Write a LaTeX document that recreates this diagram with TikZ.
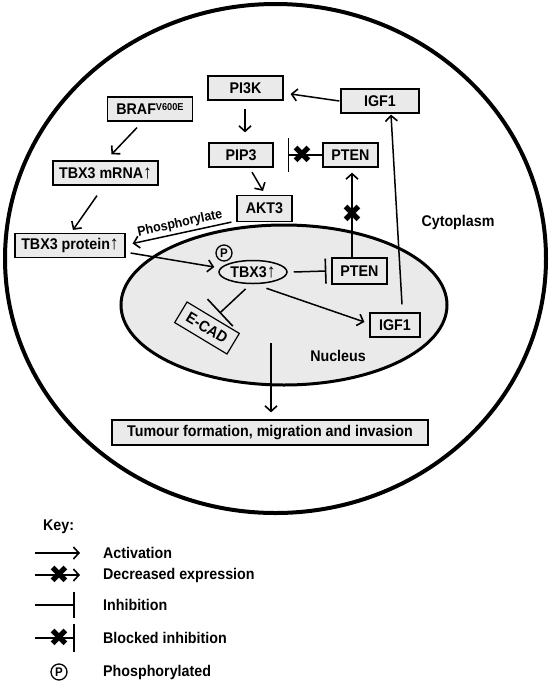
\documentclass[tikz,border=0pt]{standalone}
\usepackage{fontspec}
\setmainfont{Liberation Sans}[FakeStretch=0.92]
\newfontfamily\symfont{DejaVu Sans}
\usetikzlibrary{arrows.meta,calc,shapes.geometric}
\definecolor{boxgray}{RGB}{234,234,234}
\newcommand{\upar}{{\mdseries\fontsize{19}{19}\selectfont ↑}}
\begin{document}
\begin{tikzpicture}[x=1pt,y=-1pt,
  font=\bfseries\fontsize{15.5}{18}\selectfont,
  box/.style={draw=black, line width=1.2pt, fill=boxgray, minimum height=24pt, inner sep=2pt},
  nbox/.style={box, fill=boxgray},
  act/.style={line width=1.5pt, -{Straight Barb[length=5.5pt,width=12pt,line width=1.6pt]}},
  inh/.style={line width=1.5pt, -{Bar[width=#1,line width=1.6pt]}},
  xmark/.style={inner sep=0pt, font=\symfont\fontsize{25}{25}\selectfont},
  pmark/.style={circle, draw, line width=1.3pt, inner sep=0pt, minimum size=16pt, font=\bfseries\fontsize{12.5}{12.5}\selectfont},
  lbl/.style={anchor=west, inner sep=0pt}
]
\useasboundingbox (0,0) rectangle (550,683);
% cell and nucleus
\draw[line width=4pt] (275.5,258.5) ellipse [x radius=270.5pt, y radius=254.5pt];
\draw[line width=3pt, fill=boxgray] (284,305) ellipse [x radius=163pt, y radius=80pt];

% nodes
\node[box, minimum width=75pt] (pi3k) at (245.5,88) {PI3K};
\node[box, minimum width=78pt] (igf1t) at (380,101) {IGF1};
\node[box, minimum width=85pt] (braf) at (150,109) {BRAF\raisebox{4.5pt}{\fontsize{10}{10}\selectfont V600E}};
\node[box, minimum width=105pt] (mrna) at (105.5,173) {TBX3 mRNA\upar};
\node[box, minimum width=64pt] (pip3) at (241,155) {PIP3};
\node[box, minimum width=55pt] (ptent) at (350.5,155) {PTEN};
\node[box, minimum width=55pt, minimum height=26pt] (akt3) at (264.5,208.5) {AKT3};
\node[box, minimum width=110pt] (prot) at (70,245.5) {TBX3 protein\upar};
\node[draw, ellipse, line width=1.5pt, minimum width=68pt, minimum height=23pt, inner sep=0pt] (tbx3) at (253,272) {TBX3\upar};
\node[pmark] (pc) at (224,253) {P};
\node[nbox, minimum width=55pt, minimum height=26pt] (ptenn) at (359.5,271) {PTEN};
\node[nbox, minimum width=50pt] (igf1n) at (395,325) {IGF1};
\node[nbox, minimum width=61pt, rotate=-31] (ecad) at (207,328) {E-CAD};
\node[box, minimum width=316pt, minimum height=25pt] (tum) at (270,432.5) {Tumour formation, migration and invasion};
\node (nuclbl) at (338,356) {Nucleus};
\node (cytlbl) at (458,222) {Cytoplasm};
\coordinate (nuc) at (271,343);

% connectors
\draw[act] ([xshift=-1pt]igf1t.west) -- ([xshift=7pt,yshift=-6pt]pi3k.east);
\draw[act] ([xshift=-0.5pt,yshift=-8pt]pi3k.south) -- ([xshift=4pt,yshift=10pt]pip3.north);
\draw[act] ([xshift=-13pt,yshift=-6pt]braf.south) -- ([xshift=6pt,yshift=6pt]mrna.north);
\draw[act] ([xshift=-8.5pt,yshift=-10pt]mrna.south) -- ([xshift=3pt,yshift=3pt]prot.north);
\draw[act] ([xshift=11pt,yshift=-4.5pt]pip3.south) -- ([xshift=-1.5pt,yshift=4pt]akt3.north);
\draw[act] ([xshift=-5pt]akt3.south west) -- ([xshift=7pt,yshift=2pt]prot.east);
\path ([xshift=7pt,yshift=2pt]prot.east) -- node[sloped, above, inner sep=3pt, font=\bfseries\fontsize{13.5}{15}\selectfont] {Phosphorylate} ([xshift=-5pt]akt3.south west);
\draw[act] ([xshift=5pt,yshift=-7.5pt]prot.east) -- ([xshift=-4pt,yshift=5pt]tbx3.west);
\draw[inh=25pt] ([xshift=6pt]tbx3.east) -- ([xshift=-5pt]ptenn.west);
\draw[act, shorten >=5pt] ([xshift=-7.5pt]ptenn.north) -- ([xshift=1.5pt]ptent.south);
\node[xmark] (x1) at (352,214) {✖};
\draw[inh=34pt] (ptent.west) -- ([xshift=14pt]pip3.east);
\node[xmark] (x2) at (302,155) {✖};
\draw[act] ([yshift=-5pt]tbx3.-40) -- ([xshift=-5pt,yshift=3pt]igf1n.west);
\draw[act] ([xshift=7pt,yshift=8pt]igf1n.north) -- ([xshift=11pt,yshift=-1pt]igf1t.south);
\draw[inh=37pt] ([yshift=-5pt]tbx3.-122) -- ([xshift=6.1pt,yshift=4pt]ecad.north);
\draw[act, shorten >=7pt] (nuc) -- (nuc |- tum.north);

% key
\node[lbl] (keyt) at (43,527) {Key:};
\coordinate (k1a) at (35,553); \coordinate (k1b) at (80,553);
\draw[act] (k1a) -- (k1b);
\node[lbl] (l1) at (103,553) {Activation};
\coordinate (k2a) at (35,575); \coordinate (k2b) at (80,575);
\draw[act] (k2a) -- (k2b);
\node[xmark] (kx2) at (59,575) {✖};
\node[lbl] (l2) at (103,575) {Decreased expression};
\coordinate (k3a) at (35,605); \coordinate (k3b) at (75,605);
\draw[inh=26pt] (k3a) -- (k3b);
\node[lbl] (l3) at (103,605) {Inhibition};
\coordinate (k4a) at (35,638); \coordinate (k4b) at (75,638);
\draw[inh=28pt] (k4a) -- (k4b);
\node[xmark] (kx4) at (59,638) {✖};
\node[lbl] (l4) at (103,638) {Blocked inhibition};
\node[pmark] (kp) at (59,672) {P};
\node[lbl] (l5) at (103,672) {Phosphorylated};
\end{tikzpicture}
\end{document}
